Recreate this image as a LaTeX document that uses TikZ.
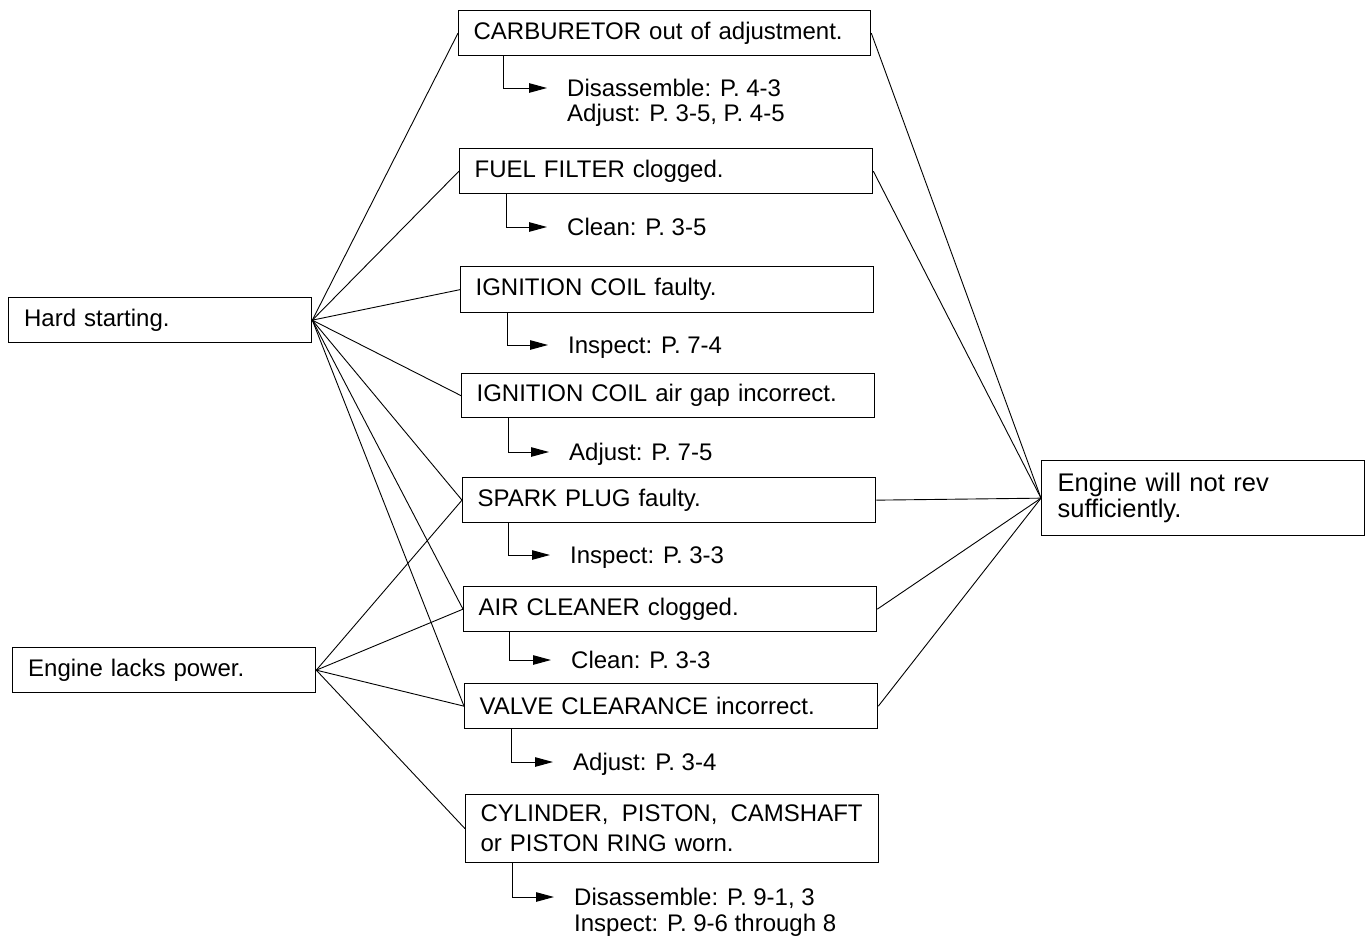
\documentclass[tikz,border=0pt]{standalone}
\usepackage{fontspec}
\setmainfont{Liberation Sans}
\usetikzlibrary{arrows.meta}
\begin{document}
\begin{tikzpicture}[x=1pt,y=-1pt,
  box/.style={draw, line width=1.3pt, anchor=north west, inner xsep=15pt, inner ysep=0pt,
    align=left, font=\fontsize{24}{27}\selectfont},
  lbl/.style={anchor=base west, inner sep=0pt, font=\fontsize{24}{27}\selectfont},
  link/.style={line width=0.9pt},
  arr/.style={line width=1pt, -{Triangle[length=18pt,width=9.5pt]}}
]
\useasboundingbox (0,0) rectangle (1368,940);
\fill[white] (0,0) rectangle (1368,940);

% left causes
\node[box, minimum width=303pt, minimum height=45pt, text width=272pt] (hs) at (8,297) {Hard starting.};
\node[box, minimum width=303pt, minimum height=45pt, text width=272pt] (elp) at (12,647) {Engine lacks power.};

% middle boxes
\node[box, minimum width=412pt, minimum height=45pt, text width=382pt] (carb) at (458,10) {CARBURETOR out of adjustment.};
\node[box, minimum width=413pt, minimum height=45pt, text width=383pt] (fuel) at (459,148) {FUEL FILTER clogged.};
\node[box, minimum width=413pt, minimum height=46pt, text width=383pt] (ign) at (460,266) {IGNITION COIL faulty.};
\node[box, minimum width=413pt, minimum height=44pt, text width=383pt] (gap) at (461,373) {IGNITION COIL air gap incorrect.};
\node[box, minimum width=413pt, minimum height=45pt, text width=383pt] (spark) at (462,477) {SPARK PLUG faulty.};
\node[box, minimum width=413pt, minimum height=45pt, text width=383pt] (air) at (463,586) {AIR CLEANER clogged.};
\node[box, minimum width=413pt, minimum height=45pt, text width=383pt] (valve) at (464,683) {VALVE CLEARANCE incorrect.};
\node[box, minimum width=413pt, minimum height=68pt, text width=383pt, inner xsep=15pt, font=\fontsize{24}{30}\selectfont] (cyl) at (465,794)
  {\makebox[383pt][l]{CYLINDER,\hspace{0.55em}PISTON,\hspace{0.55em}CAMSHAFT}\\or PISTON RING worn.};

% right result
\node[box, minimum width=323pt, minimum height=75pt, text width=291pt, inner xsep=16pt, font=\fontsize{25.5}{26}\selectfont] (rev) at (1041,460) {Engine will not rev\\sufficiently.};

% remedy labels
\node[lbl] (l1) at (567,96) {\begin{tabular}[t]{@{}l@{}}Disassemble: P. 4-3\\[-2pt]Adjust: P. 3-5, P. 4-5\end{tabular}};
\node[lbl] (l2) at (567,235) {Clean: P. 3-5};
\node[lbl] (l3) at (568,353) {Inspect: P. 7-4};
\node[lbl] (l4) at (569,460) {Adjust: P. 7-5};
\node[lbl] (l5) at (570,563) {Inspect: P. 3-3};
\node[lbl] (l6) at (571,668) {Clean: P. 3-3};
\node[lbl] (l7) at (573,770) {Adjust: P. 3-4};
\node[lbl] (l8) at (574,905) {\begin{tabular}[t]{@{}l@{}}Disassemble: P. 9-1, 3\\[-1pt]Inspect: P. 9-6 through 8\end{tabular}};

% arrow tips
\coordinate (t1) at (547,88);
\coordinate (t2) at (547,227);
\coordinate (t3) at (548,345);
\coordinate (t4) at (549,452);
\coordinate (t5) at (550,555);
\coordinate (t6) at (551,660);
\coordinate (t7) at (553,762);
\coordinate (t8) at (554,897);

\draw[arr] ([xshift=45pt]carb.south west) |- (t1);
\draw[arr] ([xshift=47pt]fuel.south west) |- (t2);
\draw[arr] ([xshift=47pt]ign.south west) |- (t3);
\draw[arr] ([xshift=47pt]gap.south west) |- (t4);
\draw[arr] ([xshift=46pt]spark.south west) |- (t5);
\draw[arr] ([xshift=46pt]air.south west) |- (t6);
\draw[arr] ([xshift=47pt]valve.south west) |- (t7);
\draw[arr] ([xshift=47pt]cyl.south west) |- (t8);

% connectors from Hard starting
\foreach \t in {carb,fuel,ign,gap,spark,air,valve}
  \draw[link] (hs.east) -- (\t.west);
% connectors from Engine lacks power
\foreach \t in {spark,air,valve,cyl}
  \draw[link] (elp.east) -- (\t.west);
% connectors to Engine will not rev
\foreach \t in {carb,fuel,spark,air,valve}
  \draw[link] (\t.east) -- (rev.west);
\end{tikzpicture}
\end{document}
